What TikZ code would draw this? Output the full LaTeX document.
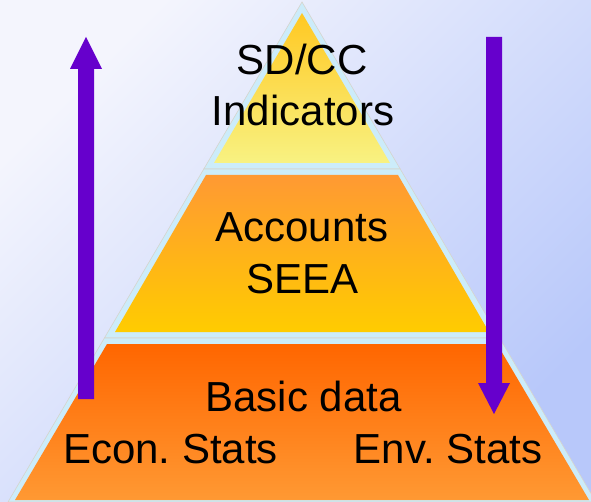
\documentclass[tikz,border=0pt]{standalone}
\usepackage{fontspec}
\setmainfont{Liberation Sans}
\frenchspacing

% palette
\definecolor{bgLight}{RGB}{244,245,253}
\definecolor{bgDark}{RGB}{184,200,250}
\definecolor{frameBlue}{RGB}{204,236,250}
\definecolor{frameLine}{RGB}{214,212,204}
\definecolor{topA}{RGB}{255,200,34}
\definecolor{topB}{RGB}{248,242,130}
\definecolor{midA}{RGB}{255,153,51}
\definecolor{midB}{RGB}{255,204,0}
\definecolor{botA}{RGB}{255,102,0}
\definecolor{botB}{RGB}{255,153,51}
\definecolor{arrowPurple}{RGB}{102,0,204}

\begin{document}
\begin{tikzpicture}[x=1pt,y=-1pt,
  label/.style={anchor=base, inner sep=0pt, text=black, font=\fontsize{42}{50}\selectfont},
  frame/.style={fill=frameBlue, draw=frameLine, line width=0.6pt},
  flow/.style={fill=arrowPurple, draw=none}]
\useasboundingbox (0,0) rectangle (591,502);

% background
\shade[top color=bgLight, bottom color=bgDark, shading angle=45] (0,0) rectangle (591,502);

% light blue frame of the pyramid, one piece per tier
\filldraw[frame] (302,2) -- (400.2,169) -- (203.8,169) -- cycle;
\filldraw[frame] (203.8,169) -- (400.2,169) -- (499.6,338) -- (104.4,338) -- cycle;
\filldraw[frame] (104.4,338) -- (499.6,338) -- (596,502) -- (8,502) -- cycle;

% tiers
\shade[top color=topA, bottom color=topB] (302,13) -- (390,163) -- (214,163) -- cycle;
\shade[top color=midA, bottom color=midB] (206,175) -- (398,175) -- (489,332) -- (115,332) -- cycle;
\shade[top color=botA, bottom color=botB] (107,344) -- (497,344) -- (589,500) -- (15,500) -- cycle;

% labels
\node[label] (sdcc) at (302,75) {SD/CC};
\node[label] (ind) at (303,126) {Indicators};
\node[label] (acc) at (302,242) {Accounts};
\node[label] (seea) at (302.5,294) {SEEA};
\node[label] (basic) at (303.5,411) {Basic data};
\node[label] (econ) at (170.5,463) {Econ. Stats};
\node[label] (env) at (448,463) {Env. Stats};

% upward and downward flow arrows
\fill[flow] (78,399) -- (78,69) -- (70,69) -- (86,37) -- (102,69) -- (94,69) -- (94,399) -- cycle;
\fill[flow] (486,37) -- (502,37) -- (502,383) -- (510,383) -- (494,414) -- (478,383) -- (486,383) -- cycle;
\end{tikzpicture}
\end{document}
